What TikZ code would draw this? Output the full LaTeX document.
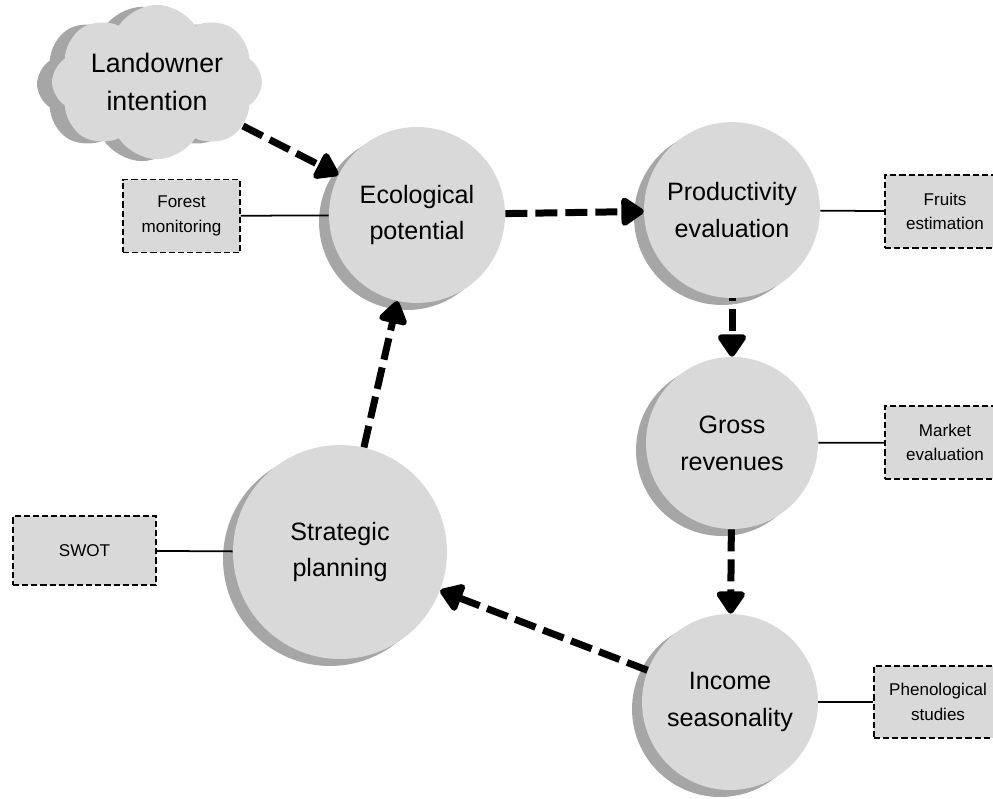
\documentclass[tikz,border=0pt]{standalone}
\usepackage{fontspec}
\setmainfont{Liberation Sans}
\usetikzlibrary{shapes.symbols,shadows,arrows.meta}
\definecolor{bubble}{HTML}{D9D9D9}
\definecolor{bubbleshade}{HTML}{A6A6A6}
\tikzset{
  stage/.style={circle,fill=bubble,inner sep=0pt,align=center,
    font=\fontsize{14.3}{21}\selectfont,
    drop shadow={shadow xshift=-0.2cm,shadow yshift=-0.14cm,fill=bubbleshade,opacity=1}},
  wish/.style={cloud,cloud puffs=8,cloud puff arc=115,aspect=1.5,fill=bubble,
    inner sep=0pt,minimum width=4.2cm,minimum height=2.85cm,align=center,
    font=\fontsize{15.2}{21.5}\selectfont,
    drop shadow={shadow xshift=-0.3cm,shadow yshift=-0.04cm,fill=bubbleshade,opacity=1}},
  tool/.style={draw,fill=bubble,line width=0.8pt,dash pattern=on 3.5pt off 1.7pt,
    align=center,inner sep=0pt,font=\fontsize{9.7}{13.8}\selectfont},
  link/.style={line width=1pt},
  flow/.style={line width=0.14cm,dash pattern=on 0.44cm off 0.16cm,
    -{Triangle[length=0.5cm,width=0.64cm,round]}}
}

\begin{document}
\begin{tikzpicture}[x=0.02cm,y=-0.02cm]
  \clip (0,0) rectangle (993,798);
  % main cycle
  \node[stage,minimum size=3.52cm] (eco) at (417,215) {Ecological\\potential};
  \node[stage,minimum size=3.52cm] (prod) at (732,210) {Productivity\\evaluation};
  \node[stage,minimum size=3.44cm] (gross) at (732,443) {Gross\\revenues};
  \node[stage,minimum size=3.52cm] (income) at (730,702) {Income\\seasonality};
  \node[stage,minimum size=4.28cm] (strat) at (340,552) {Strategic\\planning};
  \node[wish] (owner) at (157,82) {Landowner\\intention};
  % tools
  \node[tool,minimum width=2.34cm,minimum height=1.46cm] (forest) at (181.5,216) {Forest\\monitoring};
  \node[tool,minimum width=2.4cm,minimum height=1.46cm] (fruits) at (945,211.5) {Fruits\\estimation};
  \node[tool,minimum width=2.4cm,minimum height=1.46cm] (market) at (945,442.5) {Market\\evaluation};
  \node[tool,minimum width=2.56cm,minimum height=1.44cm] (pheno) at (938,702) {Phenological\\studies};
  \node[tool,minimum width=2.86cm,minimum height=1.38cm] (swot) at (84.5,550.5) {SWOT};
  \draw[link] (forest) -- (eco);
  \draw[link] (prod) -- (fruits);
  \draw[link] (gross) -- (market);
  \draw[link] (income) -- (pheno);
  \draw[link] (swot) -- (strat);
  % arrows
  \draw[flow] (owner) -- (eco);
  \draw[flow] (eco) -- (prod);
  \draw[flow,dash phase=0.38cm] (prod) -- (gross);
  \draw[flow] (gross) -- (income);
  \draw[flow] (income) -- (strat);
  \draw[flow] (strat) -- (eco);
\end{tikzpicture}
\end{document}
